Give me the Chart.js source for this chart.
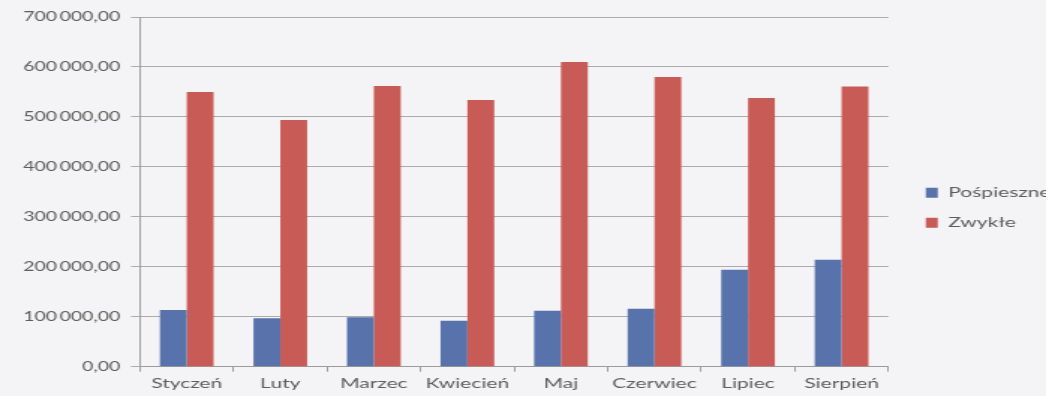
<!DOCTYPE html>
<html lang="pl">
<head>
<meta charset="utf-8">
<title>Pośpieszne / Zwykłe</title>
<script src="https://cdn.jsdelivr.net/npm/chart.js@4/dist/chart.umd.min.js"></script>
<style>
  html, body { margin: 0; padding: 0; background: #f4f4f6; overflow: hidden; }
  #wrap { width: 1046px; height: 396px; overflow: hidden; }
  /* the scanned original is stretched horizontally, so the chart is drawn narrow and widened */
  #holder { transform: scaleX(1.4986); transform-origin: 0 0; width: 710px; height: 396px; }
</style>
</head>
<body>
<div id="wrap"><div id="holder"><canvas id="chart" width="710" height="396"></canvas></div></div>
<script>
const months = ["Styczeń", "Luty", "Marzec", "Kwiecień", "Maj", "Czerwiec", "Lipiec", "Sierpień"];
const pospieszne = [113600, 97000, 99000, 92000, 112000, 116000, 194000, 214000];
const zwykle = [550000, 494000, 562000, 534000, 610000, 580000, 538000, 561000];
const yMax = 700000;
const yStep = 100000;

const BLUE = "#5872ab";
const RED = "#c95b56";
const TEXT = "#5c5c5c";
const FONT = "Lato";

// legend sits a bit further from the plot than Chart.js puts it
const LEGEND_DX = 9;
const LEGEND_DY = 2;

function plNumber(value) {
  const parts = Number(value).toFixed(2).split(".");
  const whole = parts[0].replace(/\B(?=(\d{3})+(?!\d))/g, "\u2009");
  return whole + "," + parts[1];
}

const legendShift = {
  id: "legendShift",
  afterLayout(chart) {
    const legend = chart.legend;
    if (!legend) {
      return;
    }
    legend.left += LEGEND_DX;
    legend.right += LEGEND_DX;
    legend.top += LEGEND_DY;
    legend.bottom += LEGEND_DY;
  },
};

new Chart(document.getElementById("chart"), {
  type: "bar",
  data: {
    labels: months,
    datasets: [
      {
        label: "Pośpieszne",
        data: pospieszne,
        backgroundColor: BLUE,
        borderWidth: 0,
      },
      {
        label: "Zwykłe",
        data: zwykle,
        backgroundColor: RED,
        borderWidth: 0,
      },
    ],
  },
  plugins: [legendShift],
  options: {
    responsive: false,
    animation: false,
    devicePixelRatio: 1,
    datasets: {
      bar: { categoryPercentage: 0.574, barPercentage: 1 },
    },
    layout: {
      padding: { left: 8.5, right: 8, top: 17, bottom: 1.5 },
    },
    scales: {
      x: {
        grid: {
          drawOnChartArea: false,
          drawTicks: true,
          tickLength: 5,
          color: "#9c9c9c",
        },
        border: { color: "#9c9c9c" },
        ticks: {
          color: TEXT,
          padding: 3,
          maxRotation: 0,
          font: { family: FONT, size: 14 },
        },
      },
      y: {
        min: 0,
        max: yMax,
        grid: { color: "#ababab", tickLength: 6 },
        border: { color: "#9c9c9c" },
        ticks: {
          stepSize: yStep,
          color: TEXT,
          padding: 7,
          font: { family: FONT, size: 13 },
          callback: (value) => plNumber(value),
        },
      },
    },
    plugins: {
      legend: {
        position: "right",
        labels: {
          boxWidth: 8,
          boxHeight: 10,
          padding: 16,
          color: TEXT,
          font: { family: FONT, size: 14 },
        },
      },
      tooltip: { enabled: false },
    },
  },
});
</script>
</body>
</html>
